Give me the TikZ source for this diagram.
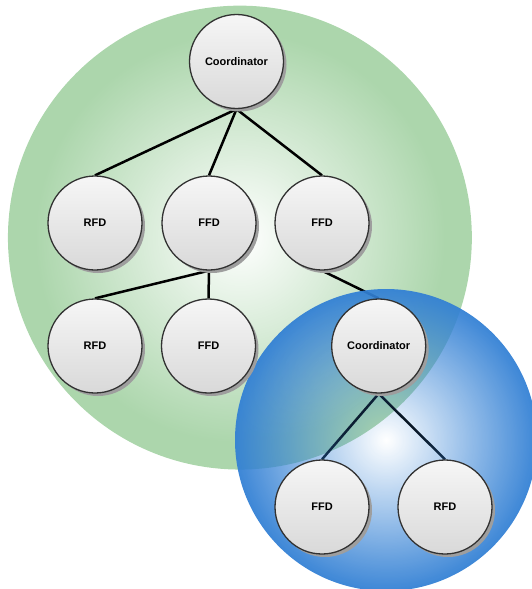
\documentclass[tikz,border=0pt]{standalone}
\usepackage{fontspec}
\setmainfont{Liberation Sans}
\usetikzlibrary{fadings,shadows}

\definecolor{zonegreen}{RGB}{172,214,172}
\definecolor{zoneblue}{RGB}{50,128,212}
\definecolor{rimgray}{RGB}{50,50,50}

% alpha masks: clear in the middle, solid at the rim
\pgfdeclareradialshading{centrehole}{\pgfpoint{0bp}{0bp}}{color(0bp)=(black); color(25bp)=(white); color(50bp)=(white)}
\pgfdeclarefading{opencentre}{\pgfuseshading{centrehole}}
\pgfdeclareradialshading{widehole}{\pgfpoint{0bp}{0bp}}{color(0bp)=(black); color(22bp)=(white); color(50bp)=(white)}
\pgfdeclarefading{openwide}{\pgfuseshading{widehole}}

\pgfdeclarelayer{greenzone}
\pgfdeclarelayer{links}
\pgfdeclarelayer{bluezone}
\pgfsetlayers{greenzone,links,bluezone,main}

\begin{document}
\begin{tikzpicture}[x=1pt,y=-1pt,
  device/.style={circle, draw=rimgray, line width=1.3pt, minimum size=94pt,
    inner sep=0pt, top color=gray!7, bottom color=gray!30,
    font=\bfseries\fontsize{11}{13}\selectfont,
    drop shadow={shadow xshift=3pt, shadow yshift=-3pt, fill=black!38, opacity=1}},
  link/.style={line width=2.5pt, black}]
\useasboundingbox (0,0) rectangle (531,589);
\clip (0,0) rectangle (531,589);

% devices
\node[device] (c1) at (236.5,61.5) {Coordinator};
\node[device] (r1) at (95,223) {RFD};
\node[device] (f1) at (209,223) {FFD};
\node[device] (f2) at (322,223) {FFD};
\node[device] (r2) at (95,346) {RFD};
\node[device] (f3) at (208.5,346) {FFD};
\node[device] (c2) at (378.7,346) {Coordinator};
\node[device] (f4) at (322,507) {FFD};
\node[device] (r3) at (445,507) {RFD};

% tree links
\begin{pgfonlayer}{links}
\draw[link] (c1.south) -- (r1.north);
\draw[link] (c1.south) -- (f1.north);
\draw[link] (c1.south) -- (f2.north);
\draw[link] (f1.south) -- (r2.north);
\draw[link] (f1.south) -- (f3.north);
\draw[link] (f2.south) -- (c2.north);
\draw[link] (c2.south) -- (f4.north);
\draw[link] (c2.south) -- (r3.north);
\end{pgfonlayer}

% network zones
\begin{pgfonlayer}{greenzone}
\fill[zonegreen, path fading=openwide] (240,237.5) circle (232);
\end{pgfonlayer}
\begin{pgfonlayer}{bluezone}
\fill[zoneblue, path fading=opencentre, fill opacity=0.95] (386,440) circle (151);
\end{pgfonlayer}
\end{tikzpicture}
\end{document}
